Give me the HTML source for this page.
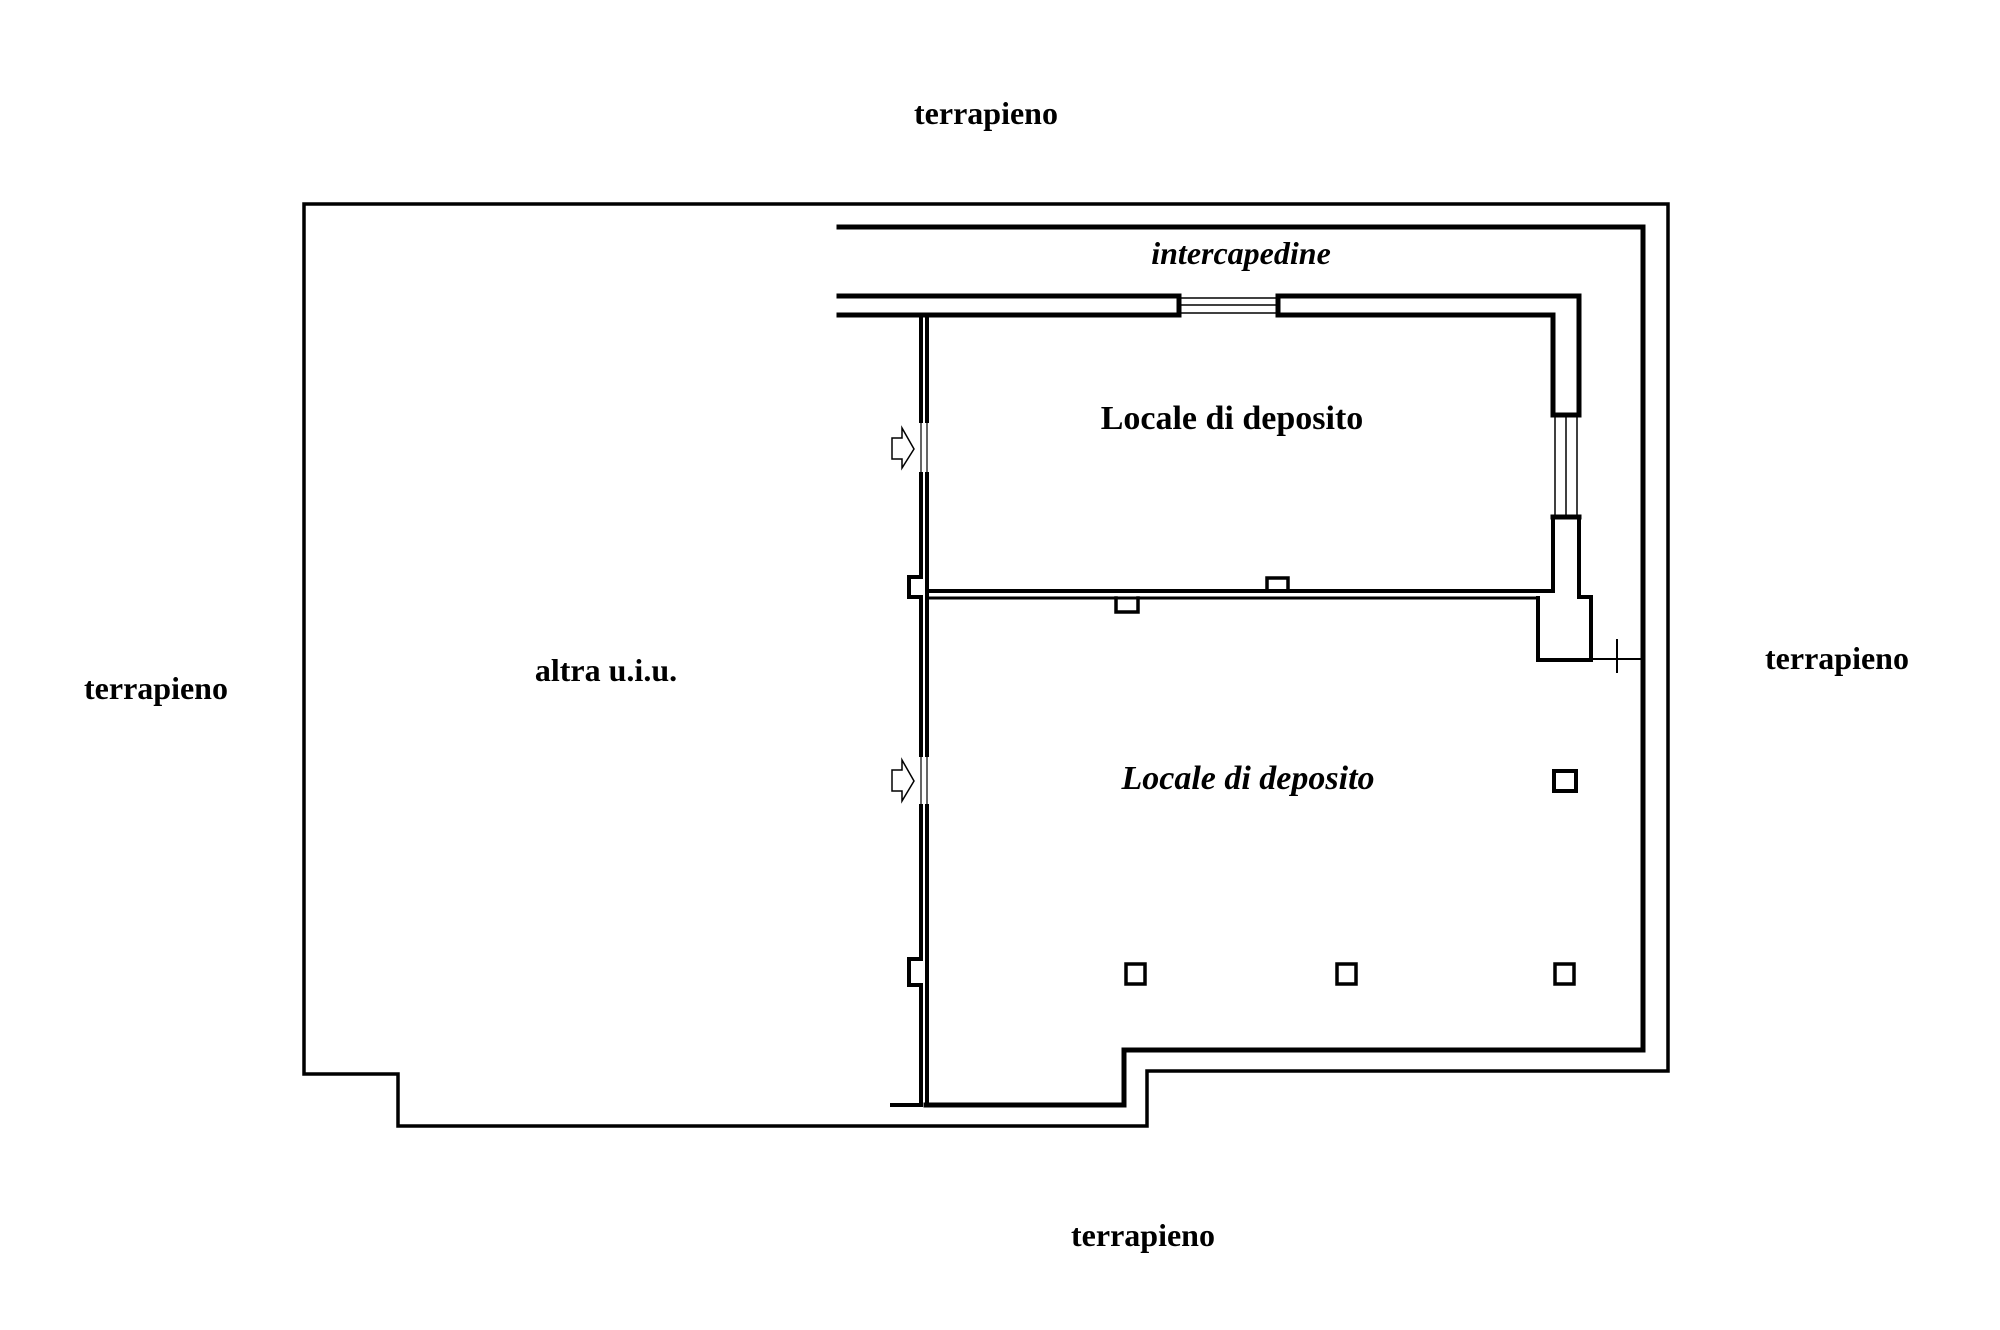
<!DOCTYPE html>
<html><head><meta charset="utf-8"><style>
html,body{margin:0;padding:0;background:#fff;}
svg{display:block}
text{font-family:"Liberation Serif",serif;font-weight:bold;fill:#000;}
</style></head><body>
<svg width="2000" height="1330" viewBox="0 0 2000 1330" xmlns="http://www.w3.org/2000/svg">
<g fill="none" stroke="#000" stroke-linejoin="miter" stroke-linecap="square">
<polyline stroke-width="3.5" points="304,204 1668,204 1668,1071 1147,1071 1147,1126 398,1126 398,1074 304,1074 304,204"/>
<polyline stroke-width="5" points="839,227 1643,227 1643,1050 1124,1050 1124,1105 926,1105"/>
<polyline stroke-width="5" points="839,296 1179,296"/>
<polyline stroke-width="5" points="1278,296 1579,296 1579,415"/>
<polyline stroke-width="5" points="839,315 1179,315"/>
<polyline stroke-width="5" points="1278,315 1553,315 1553,415"/>
<polyline stroke-width="5" points="1179,296 1179,315"/>
<polyline stroke-width="5" points="1278,296 1278,315"/>
<line stroke-width="1.5" x1="1179" y1="305" x2="1278" y2="305"/>
<line stroke-width="1.5" x1="1179" y1="298" x2="1278" y2="298"/>
<line stroke-width="1.5" x1="1179" y1="313" x2="1278" y2="313"/>
<line stroke-width="5" x1="1553" y1="415" x2="1579" y2="415"/>
<line stroke-width="5" x1="1553" y1="517" x2="1579" y2="517"/>
<line stroke-width="1.5" x1="1555" y1="415" x2="1555" y2="517"/>
<line stroke-width="1.5" x1="1566" y1="415" x2="1566" y2="517"/>
<line stroke-width="1.5" x1="1577" y1="415" x2="1577" y2="517"/>
<polyline stroke-width="4" points="1553,517 1553,591 927,591"/>
<polyline stroke-width="4" points="1579,517 1579,597 1591,597 1591,660 1538,660 1538,598"/>
<polyline stroke-width="3" points="1538,598 927,598"/>
<line stroke-width="2" x1="1591" y1="659" x2="1643" y2="659"/>
<line stroke-width="2" x1="1617" y1="640" x2="1617" y2="672"/>
<polyline stroke-width="3.5" points="1267,591 1267,578 1288,578 1288,591"/>
<polyline stroke-width="3.5" points="1116,598 1116,612 1138,612 1138,598"/>
<polyline stroke-width="4" points="921,316 921,421"/>
<polyline stroke-width="4" points="927,316 927,421"/>
<polyline stroke-width="4" points="921,474 921,577 909,577 909,597 921,597 921,755"/>
<polyline stroke-width="4" points="927,474 927,755"/>
<polyline stroke-width="4" points="921,806 921,959 909,959 909,985 921,985 921,1105 892,1105"/>
<polyline stroke-width="4" points="927,806 927,1105"/>
<line stroke-width="1.2" x1="921" y1="421" x2="921" y2="474"/>
<line stroke-width="1.2" x1="927" y1="421" x2="927" y2="474"/>
<line stroke-width="1.2" x1="921" y1="755" x2="921" y2="806"/>
<line stroke-width="1.2" x1="927" y1="755" x2="927" y2="806"/>
<polygon stroke-width="1.5" points="892,438 902,438 902,428 914,449 902,468 902,459 892,459"/>
<polygon stroke-width="1.5" points="892,770 902,770 902,760 914,781 902,801 902,791 892,791"/>
<rect stroke-width="4" x="1554" y="771" width="22" height="20"/>
<rect stroke-width="3.5" x="1126" y="964" width="19" height="20"/>
<rect stroke-width="3.5" x="1337" y="964" width="19" height="20"/>
<rect stroke-width="3.5" x="1555" y="964" width="19" height="20"/>
</g>
<g font-size="32" text-anchor="middle">
<text x="986" y="124">terrapieno</text>
<text x="156" y="699">terrapieno</text>
<text x="1837" y="669">terrapieno</text>
<text x="1143" y="1246">terrapieno</text>
<text x="1241" y="264" font-style="italic">intercapedine</text>
<text x="1232" y="429" font-size="34">Locale di deposito</text>
<text x="1248" y="789" font-size="34" font-style="italic">Locale di deposito</text>
<text x="606" y="681">altra u.i.u.</text>
</g>
</svg>
</body></html>
